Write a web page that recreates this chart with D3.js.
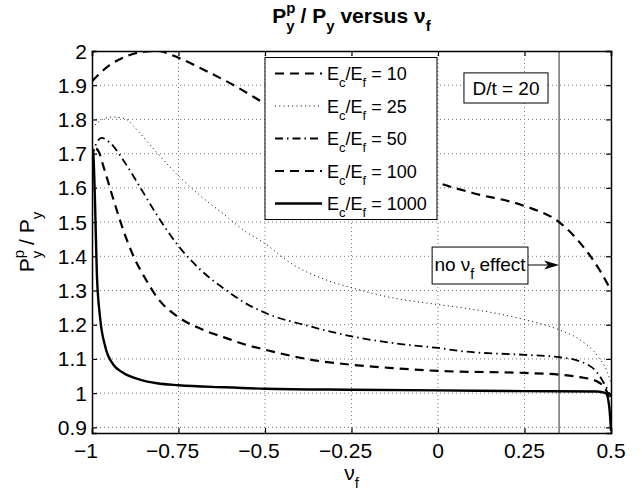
<!DOCTYPE html>
<html>
<head>
<meta charset="utf-8">
<script src="https://cdn.jsdelivr.net/npm/d3@7"></script>
<style>
  body { margin: 0; background: #fff; }
  text { font-family: "Liberation Sans", Arial, Helvetica, sans-serif; fill: #000; }
</style>
</head>
<body>
<div id="chart"></div>
<script>
// Tick values and labels
var xTicks = [-1, -0.75, -0.5, -0.25, 0, 0.25, 0.5];
var xTickLabels = ["\u22121", "\u22120.75", "\u22120.5", "\u22120.25", "0", "0.25", "0.5"];
var yTicks = [0.9, 1, 1.1, 1.2, 1.3, 1.4, 1.5, 1.6, 1.7, 1.8, 1.9, 2];
var yTickLabels = ["0.9", "1", "1.1", "1.2", "1.3", "1.4", "1.5", "1.6", "1.7", "1.8", "1.9", "2"];

// Series: E_c/E_f ratios, each a list of [nu_f, Pyp/Py]
var ratios = ["10", "25", "50", "100", "1000"];

var ratio10 = [[-1, 1.912], [-0.95, 1.958], [-0.9, 1.985], [-0.85, 1.998], [-0.81, 2.0], [-0.75, 1.98],
  [-0.667, 1.94], [-0.59, 1.90], [-0.5, 1.846], [-0.4, 1.79], [-0.25, 1.72], [-0.12, 1.665],
  [0, 1.615], [0.1, 1.585], [0.25, 1.547], [0.35, 1.50], [0.41, 1.44], [0.467, 1.36], [0.5, 1.30]];

var ratio25 = [[-1, 1.775], [-0.97, 1.80], [-0.938, 1.807], [-0.9, 1.80], [-0.88, 1.78], [-0.81, 1.70],
  [-0.75, 1.635], [-0.686, 1.576], [-0.618, 1.522], [-0.56, 1.475], [-0.5, 1.437], [-0.418, 1.375],
  [-0.321, 1.330], [-0.25, 1.308], [-0.128, 1.278], [0, 1.259], [0.074, 1.249], [0.25, 1.215],
  [0.35, 1.185], [0.41, 1.156], [0.46, 1.11], [0.49, 1.06], [0.5, 1.03]];

var ratio50 = [[-1, 1.69], [-0.985, 1.735], [-0.972, 1.746], [-0.948, 1.732], [-0.909, 1.68],
  [-0.86, 1.60], [-0.812, 1.52], [-0.75, 1.43], [-0.686, 1.36], [-0.618, 1.305], [-0.56, 1.265],
  [-0.5, 1.235], [-0.369, 1.195], [-0.25, 1.166], [-0.128, 1.146], [0, 1.132], [0.074, 1.122],
  [0.25, 1.112], [0.35, 1.105], [0.41, 1.093], [0.46, 1.06], [0.49, 1.01], [0.5, 0.99]];

var ratio100 = [[-1, 1.675], [-0.99, 1.715], [-0.98, 1.705], [-0.967, 1.663], [-0.938, 1.566],
  [-0.909, 1.475], [-0.88, 1.40], [-0.846, 1.335], [-0.812, 1.28], [-0.75, 1.222], [-0.686, 1.188],
  [-0.618, 1.163], [-0.56, 1.143], [-0.5, 1.127], [-0.369, 1.098], [-0.25, 1.083], [-0.128, 1.073],
  [0, 1.065], [0.25, 1.059], [0.35, 1.054], [0.41, 1.047], [0.46, 1.034], [0.49, 1.0], [0.5, 0.97]];

var ratio1000 = [[-1, 1.69], [-0.997, 1.712], [-0.994, 1.65], [-0.991, 1.546], [-0.986, 1.351],
  [-0.977, 1.224], [-0.962, 1.137], [-0.938, 1.083], [-0.909, 1.059], [-0.86, 1.039], [-0.812, 1.029],
  [-0.75, 1.023], [-0.618, 1.017], [-0.5, 1.013], [-0.25, 1.01], [0, 1.008], [0.25, 1.006],
  [0.46, 1.005], [0.485, 1.0], [0.495, 0.96], [0.5, 0.89]];

var noEffectNu = 0.35;

// line styles for each series
var styles = [
  {dash: "9,6", width: 2.2},
  {dash: "1,3.3", width: 1},
  {dash: "8,4,1.5,4", width: 1.8},
  {dash: "9,6", width: 2.2},
  {dash: null, width: 2.4}
];
var seriesData = [ratio10, ratio25, ratio50, ratio100, ratio1000];

// SVG drawing area
var margin = {top: 51, right: 33, bottom: 65, left: 92};
var width = 644 - margin.left - margin.right,
    height = 498 - margin.top - margin.bottom;

var svgRoot = d3.select("#chart").append("svg")
    .attr("width", 644)
    .attr("height", 498);

svgRoot.append("rect").attr("width", 644).attr("height", 498).attr("fill", "#fff");

var svg = svgRoot.append("g")
    .attr("transform", "translate(" + margin.left + "," + margin.top + ")");

// Scales
var x = d3.scaleLinear().domain([-1, 0.5]).range([0, width]);
var y = d3.scaleLinear().domain([0.8835, 2]).range([height, 0]);

// rich text with sub/superscripts
function richText(sel, parts, fs, sfs) {
  var cur = 0, lastSup = null;
  parts.forEach(function(p) {
    var target = p.m === "sup" ? -0.48 * fs : (p.m === "sub" ? 0.4 * fs : 0);
    var ts = sel.append("tspan")
      .attr("dy", target - cur)
      .style("font-size", (p.m ? sfs : fs) + "px")
      .text(p.t);
    if (p.stack && lastSup) ts.attr("dx", -lastSup.node().getComputedTextLength());
    if (p.m === "sup") lastSup = ts;
    cur = target;
  });
}

// Grid (dotted)
var grid = svg.append("g").attr("class", "grid");
grid.selectAll(".gx").data(xTicks.slice(1, -1)).enter().append("line")
  .attr("x1", function(d) { return x(d); }).attr("x2", function(d) { return x(d); })
  .attr("y1", 0).attr("y2", height)
  .attr("stroke", "#777").attr("stroke-width", 1).attr("stroke-dasharray", "1,3");
grid.selectAll(".gy").data(yTicks.filter(function(d) { return d < 2; })).enter().append("line")
  .attr("y1", function(d) { return y(d); }).attr("y2", function(d) { return y(d); })
  .attr("x1", 0).attr("x2", width)
  .attr("stroke", "#777").attr("stroke-width", 1).attr("stroke-dasharray", "1,3");

// no nu_f effect line
svg.append("line")
  .attr("x1", x(noEffectNu)).attr("x2", x(noEffectNu))
  .attr("y1", 0).attr("y2", height)
  .attr("stroke", "#7a7a7a").attr("stroke-width", 1.6);

// clip
svg.append("clipPath").attr("id", "clip").append("rect")
  .attr("width", width).attr("height", height);

var line = d3.line()
  .x(function(d) { return x(d[0]); })
  .y(function(d) { return y(d[1]); })
  .curve(d3.curveMonotoneX);

var curves = svg.append("g").attr("clip-path", "url(#clip)");
seriesData.forEach(function(s, i) {
  curves.append("path")
    .attr("d", line(s))
    .attr("fill", "none")
    .attr("stroke", "#000")
    .attr("stroke-width", styles[i].width)
    .attr("stroke-dasharray", styles[i].dash);
});

// Axes box and inward ticks
var xAxisB = d3.axisBottom(x).tickValues(xTicks).tickSize(-5).tickFormat("");
var xAxisT = d3.axisTop(x).tickValues(xTicks).tickSize(-5).tickFormat("");
var yAxisL = d3.axisLeft(y).tickValues(yTicks).tickSize(-5).tickFormat("");
var yAxisR = d3.axisRight(y).tickValues(yTicks).tickSize(-5).tickFormat("");

svg.append("g").attr("transform", "translate(0," + height + ")").call(xAxisB);
svg.append("g").call(xAxisT);
svg.append("g").call(yAxisL);
svg.append("g").attr("transform", "translate(" + width + ",0)").call(yAxisR);
svg.selectAll(".domain").attr("stroke", "#000").attr("stroke-width", 1.5);
svg.selectAll(".tick line").attr("stroke", "#000").attr("stroke-width", 1.2);

// Tick labels
svg.selectAll(".xlab").data(xTicks).enter().append("text")
  .attr("x", function(d) { return x(d) + (d < 0 ? -6 : 0); })
  .attr("y", height + 25)
  .attr("text-anchor", "middle")
  .style("font-size", "21px")
  .text(function(d, i) { return xTickLabels[i]; });

svg.selectAll(".ylab").data(yTicks).enter().append("text")
  .attr("x", -5)
  .attr("y", function(d) { return y(d) + 7.5; })
  .attr("text-anchor", "end")
  .style("font-size", "21px")
  .text(function(d, i) { return yTickLabels[i]; });

// Title
var title = svgRoot.append("text")
  .attr("x", margin.left + width / 2).attr("y", 23)
  .attr("text-anchor", "middle")
  .style("font-weight", "bold");
richText(title, [{t: "P"}, {t: "p", m: "sup"}, {t: "y", m: "sub", stack: true}, {t: " / P"},
  {t: "y", m: "sub"}, {t: " versus \u03bd"}, {t: "f", m: "sub"}], 21, 15);

// Axis labels
var xl = svgRoot.append("text")
  .attr("x", margin.left + width / 2).attr("y", 480)
  .attr("text-anchor", "middle");
richText(xl, [{t: "\u03bd"}, {t: "f", m: "sub"}], 21, 15);

var yl = svgRoot.append("text")
  .attr("transform", "translate(34," + (margin.top + height / 2) + ")rotate(-90)")
  .attr("text-anchor", "middle");
richText(yl, [{t: "P"}, {t: "p", m: "sup"}, {t: "y", m: "sub", stack: true}, {t: " / P"},
  {t: "y", m: "sub"}], 21, 15);

// Legend
var lg = svg.append("g").attr("transform", "translate(" + (265 - margin.left) + "," + (57.5 - margin.top) + ")");
lg.append("rect").attr("width", 172).attr("height", 162)
  .attr("fill", "#fff").attr("stroke", "#000").attr("stroke-width", 1);
ratios.forEach(function(r, i) {
  var ry = 16 + i * 32.5;
  lg.append("line")
    .attr("x1", 10).attr("x2", 57).attr("y1", ry).attr("y2", ry)
    .attr("stroke", "#000")
    .attr("stroke-width", styles[i].width)
    .attr("stroke-dasharray", styles[i].dash);
  var t = lg.append("text").attr("x", 62).attr("y", ry + 6.5);
  richText(t, [{t: "E"}, {t: "c", m: "sub"}, {t: "/E"}, {t: "f", m: "sub"}, {t: " = " + r}], 18, 13);
});

// D/t annotation
var dtBox = {x0: 0.075, x1: 0.318, y0: 1.936, y1: 1.848};
svg.append("rect")
  .attr("x", x(dtBox.x0)).attr("y", y(dtBox.y0))
  .attr("width", x(dtBox.x1) - x(dtBox.x0)).attr("height", y(dtBox.y1) - y(dtBox.y0))
  .attr("fill", "#fff").attr("stroke", "#000").attr("stroke-width", 1);
svg.append("text")
  .attr("x", (x(dtBox.x0) + x(dtBox.x1)) / 2).attr("y", (y(dtBox.y0) + y(dtBox.y1)) / 2 + 7)
  .attr("text-anchor", "middle").style("font-size", "19px")
  .text("D/t = 20");

// no nu_f effect annotation with arrow
var neBox = {x0: -0.017, x1: 0.26, y0: 1.427, y1: 1.319, ay: 1.3745};
svg.append("rect")
  .attr("x", x(neBox.x0)).attr("y", y(neBox.y0))
  .attr("width", x(neBox.x1) - x(neBox.x0)).attr("height", y(neBox.y1) - y(neBox.y0))
  .attr("fill", "#fff").attr("stroke", "#000").attr("stroke-width", 1);
var ne = svg.append("text")
  .attr("x", (x(neBox.x0) + x(neBox.x1)) / 2).attr("y", y(neBox.ay) + 6)
  .attr("text-anchor", "middle");
richText(ne, [{t: "no \u03bd"}, {t: "f", m: "sub"}, {t: " effect"}], 19, 14);

var tipX = x(noEffectNu), tipY = y(neBox.ay);
svg.append("line")
  .attr("x1", x(neBox.x1)).attr("x2", tipX - 10).attr("y1", tipY).attr("y2", tipY)
  .attr("stroke", "#000").attr("stroke-width", 1);
svg.append("path")
  .attr("d", "M" + tipX + "," + tipY + "L" + (tipX - 15) + "," + (tipY - 4.5) +
    "L" + (tipX - 11) + "," + tipY + "L" + (tipX - 15) + "," + (tipY + 4.5) + "Z")
  .attr("fill", "#000");
</script>
</body>
</html>
